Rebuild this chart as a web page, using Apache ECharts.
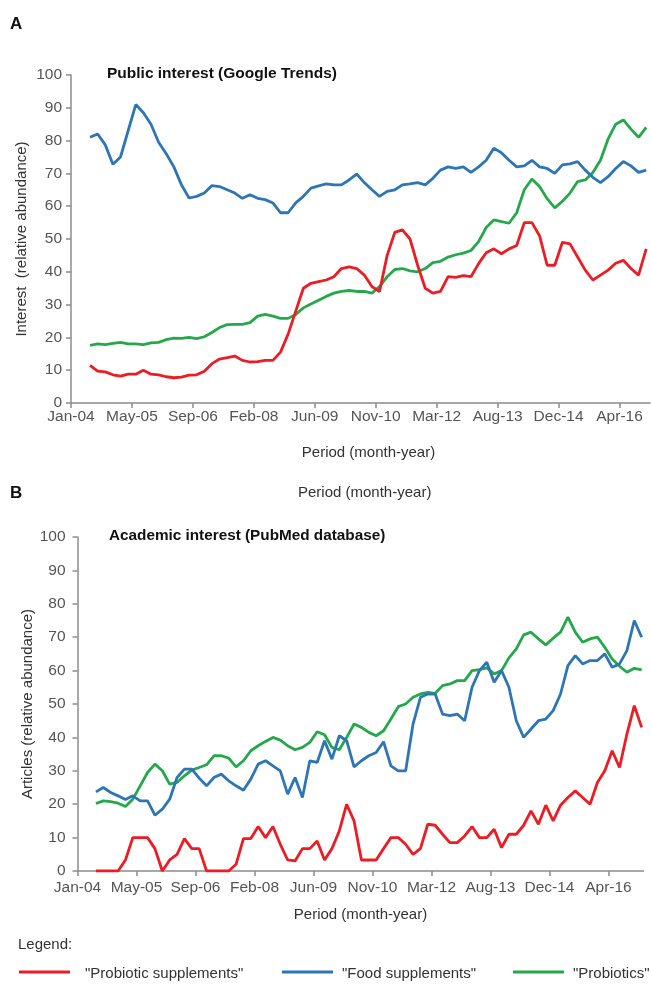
<!DOCTYPE html>
<html>
<head>
<meta charset="utf-8">
<script src="https://cdn.jsdelivr.net/npm/echarts@6/dist/echarts.min.js"></script>
<style>
  html, body { margin: 0; padding: 0; background: #fff; }
  #chart { width: 651px; height: 984px; }
</style>
</head>
<body>
<div id="chart"></div>
<script>
// month index since Jan-04 (tick labels every 16 months)
var tickLabels = ['Jan-04', 'May-05', 'Sep-06', 'Feb-08', 'Jun-09', 'Nov-10', 'Mar-12', 'Aug-13', 'Dec-14', 'Apr-16'];
var tickValues = [0, 16, 32, 48, 64, 80, 96, 112, 128, 144];

// panel A: Google Trends
var monthsA = [5,7,9,11,13,15,17,19,21,23,25,27,29,31,33,35,37,39,41,43,45,47,49,51,53,55,57,59,61,63,65,67,69,71,73,75,77,79,81,83,85,87,89,91,93,95,97,99,101,103,105,107,109,111,113,115,117,119,121,123,125,127,129,131,133,135,137,139,141,143,145,147,149,151];
var probSuppA = [11.5,9.7,9.5,8.6,8.2,8.8,8.8,10,8.8,8.6,8,7.7,7.9,8.5,8.6,9.7,12,13.4,13.8,14.3,13,12.5,12.6,13,13,15.5,21,28,35,36.5,37,37.5,38.5,41,41.5,41,39,35.5,34,45,52,52.8,50,42,35,33.5,34,38.5,38.3,38.8,38.5,42.5,45.8,47,45.5,47,48,55,55,51,42,42,49,48.5,44.5,40.5,37.5,39,40.5,42.6,43.5,41,39,47];
var foodSuppA = [81,82,78.7,72.8,75,83,91,88.5,85,79.5,76,72,66.5,62.5,63,64,66.3,66,65,64,62.4,63.5,62.4,62,61,58,58,61,63,65.5,66.2,66.8,66.5,66.5,68,69.8,67.2,65,63,64.5,65,66.5,66.8,67.2,66.5,68.5,71,72,71.5,72,70.3,72,74,77.7,76.3,74,72,72.3,74,72,71.5,70,72.6,72.9,73.6,71,68.8,67.2,69,71.5,73.6,72.3,70.3,71];
var probioticsA = [17.6,18,17.8,18.2,18.5,18,18,17.8,18.3,18.5,19.3,19.8,19.7,20,19.6,20.2,21.5,23,23.9,24,24,24.5,26.5,27,26.5,25.8,25.8,27,29,30.2,31.3,32.5,33.5,34,34.3,34,34,33.5,35.5,38.5,40.7,41,40.3,40,41,42.8,43.2,44.5,45.2,45.7,46.5,49.2,53.5,55.8,55.3,54.8,58,65,68.3,66,62.3,59.5,61.5,64,67.5,68,70.3,74,80.5,85,86.3,83.5,81,84];

// panel B: PubMed
var monthsB = [5,7,9,11,13,15,17,19,21,23,25,27,29,31,33,35,37,39,41,43,45,47,49,51,53,55,57,59,61,63,65,67,69,71,73,75,77,79,81,83,85,87,89,91,93,95,97,99,101,103,105,107,109,111,113,115,117,119,121,123,125,127,129,131,133,135,137,139,141,143,145,147,149,151,153];
var probSuppB = [0,0,0,0,3.3,10,10,10,6.7,0,3.3,5,9.7,6.7,6.7,0,0,0,0,2,9.7,9.7,13.3,10,13.3,8,3.3,3,6.7,6.7,9,3.3,6.7,12,20,15,3.3,3.3,3.3,6.7,10,10,8,5,6.7,14,13.7,11,8.5,8.5,10.5,13.3,10,10,12.5,7,11,11,13.7,18,14,19.7,15,19.7,22,24,22,20,26.5,30,36,31,41,49.5,43];
var foodSuppB = [23.7,25,23.5,22.5,21.4,22.5,21,21,16.7,18.5,21.5,28,30.5,30.5,27.8,25.5,28,29,27,25.5,24.2,27.5,32,33,31.5,30,23,28,22,33,32.5,39,33.5,40.5,39,31.2,33,34.5,35.5,38.7,31.5,30,30,44,52,53,53,47,46.5,47,45,55,60,62.5,56.5,60,55,45,40,42.5,45,45.5,48,53,61.5,64.5,62,63,63,65,61,62,66,75,70];
var probioticsB = [20.2,21,20.8,20.3,19.3,21.5,25.5,29.5,32,30,26,26.5,28.5,30.2,31,31.8,34.5,34.5,33.8,31.2,33,36,37.5,38.8,40,39.2,37.5,36.3,37,38.5,41.7,40.8,37,36.3,40,44,43,41.5,40.5,42,45.5,49.2,50,52,53,53.5,53.2,55.5,56,57,57,60,60.3,60.8,59,60,63.8,66.5,70.7,71.5,69.5,67.7,69.7,71.5,76,71.5,68.5,69.5,70,67,63.5,61.3,59.5,60.7,60.2];

var names = ['"Probiotic supplements"', '"Food supplements"', '"Probiotics"'];
var colors = ['#ec1c24', '#2e75b6', '#25a84b'];

function pairs(xs, ys) {
  return xs.map(function (x, i) { return [x, ys[i]]; });
}

var font = 'Liberation Sans, Arial, sans-serif';
var axisGrey = '#8c8c8c';
var labelGrey = '#555';

function xAxisCfg(idx, max, gap, margin, shift) {
  return {
    type: 'value', gridIndex: idx, min: 0, max: max,
    name: 'Period (month-year)', nameLocation: 'middle', nameGap: gap,
    nameTextStyle: { color: '#333', fontSize: 15, fontFamily: font, padding: [0, 0, 0, shift] },
    axisLine: { show: true, lineStyle: { color: axisGrey, width: 1.5 } },
    axisTick: { show: true, length: 5, lineStyle: { color: axisGrey, width: 1.5 }, customValues: tickValues },
    axisLabel: {
      color: labelGrey, fontSize: 15.5, fontFamily: font, margin: margin,
      customValues: tickValues,
      formatter: function (v) { return tickLabels[Math.round(v / 16)] || ''; }
    },
    splitLine: { show: false }
  };
}

function yAxisCfg(idx, name, margin, gap) {
  return {
    type: 'value', gridIndex: idx, min: 0, max: 100, interval: 10,
    name: name, nameLocation: 'middle', nameGap: gap, nameRotate: 90, nameMoveOverlap: false,
    nameTextStyle: { color: '#333', fontSize: 15, fontFamily: font },
    axisLine: { show: true, lineStyle: { color: axisGrey, width: 1.5 } },
    axisTick: { show: true, length: 5, lineStyle: { color: axisGrey, width: 1.5 } },
    axisLabel: { color: labelGrey, fontSize: 15.5, fontFamily: font, margin: margin },
    splitLine: { show: false }
  };
}

function lineSeries(name, color, xi, xs, ys) {
  return {
    name: name, type: 'line', xAxisIndex: xi, yAxisIndex: xi,
    data: pairs(xs, ys), showSymbol: false, symbol: 'none',
    lineStyle: { color: color, width: 2.8 }, itemStyle: { color: color },
    animation: false
  };
}

// legend drawn by hand so it can run to the right edge like the original
var legendX = [19, 282, 513];
var legendTextX = [85, 342, 573];
var legendGraphics = [];
names.forEach(function (n, i) {
  legendGraphics.push({ type: 'line', shape: { x1: legendX[i], y1: 972, x2: legendX[i] + 51, y2: 972 },
    style: { stroke: colors[i], lineWidth: 3 } });
  legendGraphics.push({ type: 'text', left: legendTextX[i], top: 966,
    style: { text: n, font: '15px ' + font, fill: '#333' } });
});

var chart = echarts.init(document.getElementById('chart'));
chart.setOption({
  backgroundColor: '#fff',
  animation: false,
  grid: [
    { left: 71, top: 75, width: 579, height: 328 },
    { left: 77.5, top: 537, width: 566, height: 334 }
  ],
  xAxis: [xAxisCfg(0, 152, 42, 6, 16), xAxisCfg(1, 153.5, 36, 9, 0)],
  yAxis: [yAxisCfg(0, 'Interest  (relative abundance)', 9, 42), yAxisCfg(1, 'Articles (relative abundance)', 12, 42)],
  graphic: [
    { type: 'text', left: 10, top: 16, style: { text: 'A', font: 'bold 17px ' + font, fill: '#111' } },
    { type: 'text', left: 10, top: 485, style: { text: 'B', font: 'bold 17px ' + font, fill: '#111' } },
    { type: 'text', left: 107, top: 66, style: { text: 'Public interest (Google Trends)', font: 'bold 15.5px ' + font, fill: '#111' } },
    { type: 'text', left: 109, top: 528, style: { text: 'Academic interest (PubMed database)', font: 'bold 15.3px ' + font, fill: '#111' } },
    { type: 'text', left: 298, top: 485, style: { text: 'Period (month-year)', font: '15px ' + font, fill: '#333' } },
    { type: 'text', left: 18, top: 937, style: { text: 'Legend:', font: '15px ' + font, fill: '#333' } }
  ].concat(legendGraphics),
  series: [
    lineSeries(names[2], colors[2], 0, monthsA, probioticsA),
    lineSeries(names[1], colors[1], 0, monthsA, foodSuppA),
    lineSeries(names[0], colors[0], 0, monthsA, probSuppA),
    lineSeries(names[2], colors[2], 1, monthsB, probioticsB),
    lineSeries(names[1], colors[1], 1, monthsB, foodSuppB),
    lineSeries(names[0], colors[0], 1, monthsB, probSuppB)
  ]
});
</script>
</body>
</html>
